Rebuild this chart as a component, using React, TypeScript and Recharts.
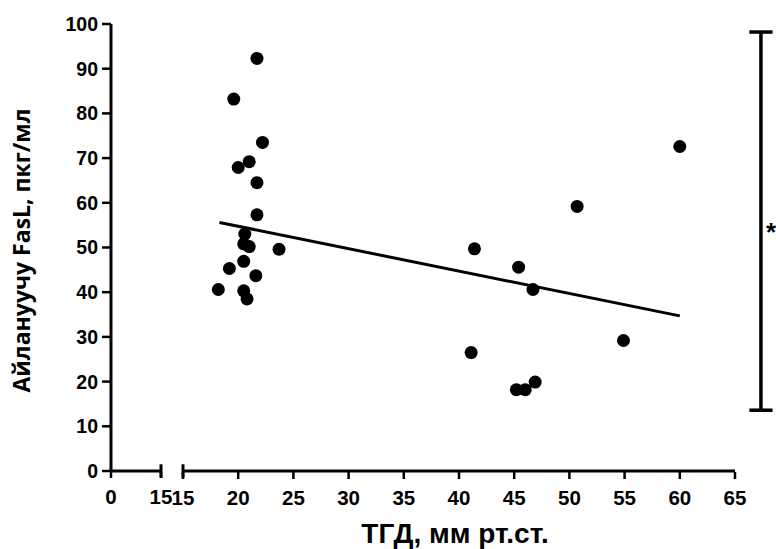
import React from 'react';
import { ScatterChart, Scatter, XAxis, YAxis, ReferenceLine } from 'recharts';

const tgdValues = [21.7, 19.6, 22.2, 21.0, 20.0, 21.7, 21.7, 20.6, 20.5, 21.0, 23.7, 20.5, 19.2, 21.6, 18.2, 20.5, 20.8, 60.0, 50.7, 41.4, 45.4, 46.7, 54.9, 41.1, 46.9, 45.2, 46.0];
const faslValues = [92.3, 83.2, 73.5, 69.2, 67.9, 64.5, 57.3, 53.0, 50.8, 50.2, 49.6, 46.9, 45.3, 43.7, 40.6, 40.3, 38.5, 72.6, 59.2, 49.7, 45.6, 40.6, 29.2, 26.5, 19.9, 18.2, 18.2];

const fitX = [18.3, 60.0];
const fitY = [55.6, 34.7];

const lowTicks = [0, 15];
const highTicks = [15, 20, 25, 30, 35, 40, 45, 50, 55, 60, 65];
const yTicks = [0, 10, 20, 30, 40, 50, 60, 70, 80, 90, 100];

const bracketX = [66.3, 67.35, 68.4];
const bracketY = [13.6, 98.2];

const xTitle = 'ТГД, мм рт.ст.';
const yTitle = 'Айлануучу FasL, пкг/мл';

const points = tgdValues.map((x, i) => ({ x, y: faslValues[i] }));
const fitData = fitX.map((x, i) => ({ x, y: fitY[i] }));
const lowPoints = points.filter((p) => p.x <= 15);

const LO = 'axisA';
const HI = 'axisB';

const xTickStyle = { fill: '#000', fontSize: 20.5, fontWeight: 'bold', fontFamily: 'Liberation Sans, Arial, sans-serif' };
const yTickStyle = { fill: '#000', fontSize: 19.5, fontWeight: 'bold', fontFamily: 'Liberation Sans, Arial, sans-serif' };

const Dot = (p: any) => <circle cx={p.cx} cy={p.cy} r={6.5} fill="#000" />;
const NoDot = () => <g />;

const XTitle = (props: any) => {
  const vb = props.viewBox || {};
  return (
    <text x={vb.x + vb.width - 280} y={vb.y + 71} textAnchor="middle" fill="#000"
      style={{ fontSize: 28, fontWeight: 'bold', fontFamily: 'Liberation Sans, Arial, sans-serif' }}>
      {xTitle}
    </text>
  );
};

const YTitle = (props: any) => {
  const vb = props.viewBox || {};
  const cx = vb.x + 21;
  const cy = vb.y + vb.height / 2 + 3;
  return (
    <text x={cx} y={cy} transform={`rotate(-90 ${cx} ${cy})`} textAnchor="middle" dominantBaseline="central" fill="#000"
      style={{ fontSize: 23, fontWeight: 'bold', fontFamily: 'Open Sans, sans-serif' }}>
      {yTitle}
    </text>
  );
};

const StarLabel = (props: any) => {
  const vb = props.viewBox || {};
  return (
    <text x={vb.x + 5} y={vb.y + vb.height / 2 + 20} fill="#000"
      style={{ fontSize: 26, fontWeight: 'bold', fontFamily: 'Liberation Sans, Arial, sans-serif' }}>
      *
    </text>
  );
};

export default function App() {
  return (
    <div style={{ position: 'absolute', left: 0, top: 0, background: '#fff' }}>
      <ScatterChart width={776} height={549} margin={{ top: 24, right: 41, bottom: 17, left: 0 }}>
        <XAxis xAxisId={HI} type="number" dataKey="x" domain={[15, 65]} ticks={highTicks} height={60}
          padding={{ left: 72, right: 0 }} axisLine={false} allowDataOverflow interval={0}
          tickSize={7} tickMargin={11} tickLine={{ stroke: '#000', strokeWidth: 2.5 }} tick={xTickStyle}
          label={(p: any) => <XTitle {...p} />} />
        <XAxis xAxisId={LO} type="number" dataKey="x" domain={[0, 15]} ticks={lowTicks} height={1}
          padding={{ left: 0, right: 574 }} axisLine={false} allowDataOverflow interval={0}
          tickSize={7} tickMargin={11} tickLine={{ stroke: '#000', strokeWidth: 2.5 }} tick={xTickStyle} />
        <YAxis type="number" dataKey="y" domain={[0, 100]} ticks={yTicks} width={111}
          axisLine={{ stroke: '#000', strokeWidth: 3 }} tickSize={9} tickMargin={4}
          tickLine={{ stroke: '#000', strokeWidth: 2.5 }} tick={yTickStyle}
          label={(p: any) => <YTitle {...p} />} />

        <ReferenceLine xAxisId={LO} segment={[{ x: 0, y: 0 }, { x: 15, y: 0 }]} stroke="#000" strokeWidth={3} ifOverflow="visible" />
        <ReferenceLine xAxisId={LO} segment={[{ x: 15, y: -1.5 }, { x: 15, y: 1.5 }]} stroke="#000" strokeWidth={3} ifOverflow="visible" />
        <ReferenceLine xAxisId={HI} segment={[{ x: 15, y: 0 }, { x: 65, y: 0 }]} stroke="#000" strokeWidth={3} ifOverflow="visible" />
        <ReferenceLine xAxisId={HI} segment={[{ x: 15, y: -1.5 }, { x: 15, y: 1.5 }]} stroke="#000" strokeWidth={3} ifOverflow="visible" />

        <ReferenceLine xAxisId={HI} segment={[{ x: bracketX[1], y: bracketY[0] }, { x: bracketX[1], y: bracketY[1] }]}
          stroke="#000" strokeWidth={3.5} ifOverflow="visible" label={(p: any) => <StarLabel {...p} />} />
        <ReferenceLine xAxisId={HI} segment={[{ x: bracketX[0], y: bracketY[0] }, { x: bracketX[2], y: bracketY[0] }]}
          stroke="#000" strokeWidth={3.5} ifOverflow="visible" />
        <ReferenceLine xAxisId={HI} segment={[{ x: bracketX[0], y: bracketY[1] }, { x: bracketX[2], y: bracketY[1] }]}
          stroke="#000" strokeWidth={3.5} ifOverflow="visible" />

        <Scatter xAxisId={LO} data={lowPoints} shape={Dot} isAnimationActive={false} />
        <Scatter xAxisId={HI} data={fitData} line={{ stroke: '#000', strokeWidth: 3 }} shape={NoDot} isAnimationActive={false} />
        <Scatter xAxisId={HI} data={points} shape={Dot} isAnimationActive={false} />
      </ScatterChart>
    </div>
  );
}
